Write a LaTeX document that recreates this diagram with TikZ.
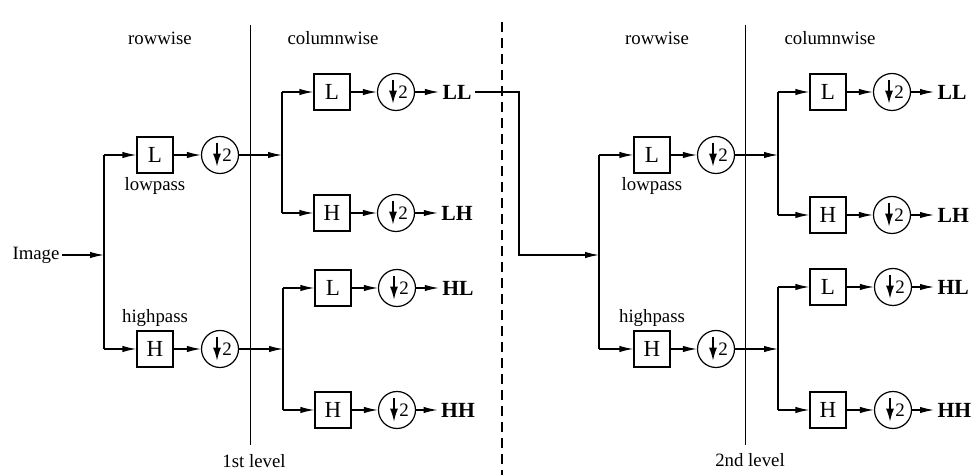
\documentclass[tikz,border=0pt]{standalone}
\usepackage{fontspec}
\setmainfont{Liberation Serif}
\usetikzlibrary{arrows.meta}
\tikzset{
  every picture/.style={line width=0.6pt},
  txt/.style={inner sep=1pt, font=\fontsize{9.4}{11}\selectfont},
  fbox/.style={draw, minimum width=18pt, minimum height=18pt, inner sep=0pt, font=\fontsize{11.5}{12}\selectfont},
  dcirc/.style={draw, circle, minimum size=18.5pt, inner sep=0pt, font=\fontsize{9.5}{10}\selectfont,
    path picture={\draw[line width=0.7pt,-{Latex[length=6.5pt,width=4pt]}]
      ([xshift=-1.5pt,yshift=6pt]path picture bounding box.center) --
      ([xshift=-1.5pt,yshift=-5.8pt]path picture bounding box.center);}},
  outl/.style={inner sep=1.5pt, font=\fontsize{10.8}{12}\selectfont\bfseries},
  arr/.style={-{Latex[length=7pt,width=3.2pt]}},
  sep/.style={line width=0.5pt},
  lvl/.style={dashed, dash pattern=on 5pt off 3pt, line width=0.7pt}
}
\begin{document}
\begin{tikzpicture}[x=0.5pt,y=-0.5pt]
\useasboundingbox (0,0) rectangle (971,475);
% headers and separators
\node[txt] (rw1) at (160,38) {rowwise};
\node[txt] (cw1) at (333,38) {columnwise};
\node[txt] (rw2) at (657,38) {rowwise};
\node[txt] (cw2) at (830,38) {columnwise};
\coordinate (s1t) at (250,25); \coordinate (s1b) at (250,445);
\coordinate (s2t) at (745,25); \coordinate (s2b) at (745,445);
\coordinate (dt) at (502,22); \coordinate (db) at (502,475);
\draw[sep] (s1t) -- (s1b);
\draw[sep] (s2t) -- (s2b);
\draw[lvl] (dt) -- (db);
\node[txt] (lv1) at (254,461) {1st level};
\node[txt] (lv2) at (750,460) {2nd level};

% ---------- level 1, rowwise ----------
\node[txt] (img) at (36,255) {Image};
\coordinate (ja) at (104,255);
\coordinate (jat) at (104,155);
\coordinate (jab) at (104,349);
\node[fbox] (L1) at (155,155) {L};
\node[fbox] (H1) at (155,349) {H};
\node[txt] (lp1) at (155,186) {lowpass};
\node[txt] (hp1) at (155,318) {highpass};
\node[dcirc] (d1) at (220,155) {\hspace*{7pt}2};
\node[dcirc] (d2) at (220,349) {\hspace*{7pt}2};
\draw[arr] (img) -- (ja);
\draw (jat) -- (jab);
\draw[arr] (jat) -- (L1);
\draw[arr] (jab) -- (H1);
\draw[arr] (L1) -- (d1);
\draw[arr] (H1) -- (d2);

% ---------- level 1, columnwise ----------
\coordinate (jb) at (282,155);
\coordinate (jbt) at (282,92);
\coordinate (jbb) at (282,213);
\coordinate (jc) at (283,349);
\coordinate (jct) at (283,288);
\coordinate (jcb) at (283,410);
\draw[arr] (d1) -- (jb);
\draw[arr] (d2) -- (jc);
\draw (jbt) -- (jbb);
\draw (jct) -- (jcb);
\node[fbox] (LLb) at (332,92) {L};
\node[fbox] (LHb) at (332,213) {H};
\node[fbox] (HLb) at (333,288) {L};
\node[fbox] (HHb) at (333,410) {H};
\node[dcirc] (LLd) at (396,92) {\hspace*{7pt}2};
\node[dcirc] (LHd) at (396,213) {\hspace*{7pt}2};
\node[dcirc] (HLd) at (397,288) {\hspace*{7pt}2};
\node[dcirc] (HHd) at (397,410) {\hspace*{7pt}2};
\node[outl] (LLt) at (457,92) {LL};
\node[outl] (LHt) at (457,213) {LH};
\node[outl] (HLt) at (458,288) {HL};
\node[outl] (HHt) at (458,410) {HH};
\draw[arr] (jbt) -- (LLb);
\draw[arr] (jbb) -- (LHb);
\draw[arr] (jct) -- (HLb);
\draw[arr] (jcb) -- (HHb);
\draw[arr] (LLb) -- (LLd);
\draw[arr] (LHb) -- (LHd);
\draw[arr] (HLb) -- (HLd);
\draw[arr] (HHb) -- (HHd);
\draw[arr] (LLd) -- (LLt);
\draw[arr] (LHd) -- (LHt);
\draw[arr] (HLd) -- (HLt);
\draw[arr] (HHd) -- (HHt);

% ---------- LL to level 2 ----------
\coordinate (k1) at (519,255);
\coordinate (jd) at (599,255);
\draw[arr] (LLt.east) -| (k1) -- (jd);

% ---------- level 2, rowwise ----------
\coordinate (jdt) at (599,155);
\coordinate (jdb) at (599,349);
\node[fbox] (L2) at (652,155) {L};
\node[fbox] (H2) at (652,349) {H};
\node[txt] (lp2) at (652,186) {lowpass};
\node[txt] (hp2) at (652,318) {highpass};
\node[dcirc] (d3) at (716,155) {\hspace*{7pt}2};
\node[dcirc] (d4) at (716,349) {\hspace*{7pt}2};
\draw (jdt) -- (jdb);
\draw[arr] (jdt) -- (L2);
\draw[arr] (jdb) -- (H2);
\draw[arr] (L2) -- (d3);
\draw[arr] (H2) -- (d4);

% ---------- level 2, columnwise ----------
\coordinate (je) at (778,155);
\coordinate (jet) at (778,92);
\coordinate (jeb) at (778,215);
\coordinate (jf) at (778,349);
\coordinate (jft) at (778,287);
\coordinate (jfb) at (778,410);
\draw[arr] (d3) -- (je);
\draw[arr] (d4) -- (jf);
\draw (jet) -- (jeb);
\draw (jft) -- (jfb);
\node[fbox] (LLb2) at (828,92) {L};
\node[fbox] (LHb2) at (828,215) {H};
\node[fbox] (HLb2) at (828,287) {L};
\node[fbox] (HHb2) at (828,410) {H};
\node[dcirc] (LLd2) at (892,92) {\hspace*{7pt}2};
\node[dcirc] (LHd2) at (892,215) {\hspace*{7pt}2};
\node[dcirc] (HLd2) at (893,287) {\hspace*{7pt}2};
\node[dcirc] (HHd2) at (893,410) {\hspace*{7pt}2};
\node[outl, anchor=west] (LLt2) at (934,92) {LL};
\node[outl, anchor=west] (LHt2) at (934,215) {LH};
\node[outl, anchor=west] (HLt2) at (934,287) {HL};
\node[outl, anchor=west] (HHt2) at (934,410) {HH};
\draw[arr] (jet) -- (LLb2);
\draw[arr] (jeb) -- (LHb2);
\draw[arr] (jft) -- (HLb2);
\draw[arr] (jfb) -- (HHb2);
\draw[arr] (LLb2) -- (LLd2);
\draw[arr] (LHb2) -- (LHd2);
\draw[arr] (HLb2) -- (HLd2);
\draw[arr] (HHb2) -- (HHd2);
\draw[arr] (LLd2) -- (LLt2);
\draw[arr] (LHd2) -- (LHt2);
\draw[arr] (HLd2) -- (HLt2);
\draw[arr] (HHd2) -- (HHt2);
\end{tikzpicture}
\end{document}
